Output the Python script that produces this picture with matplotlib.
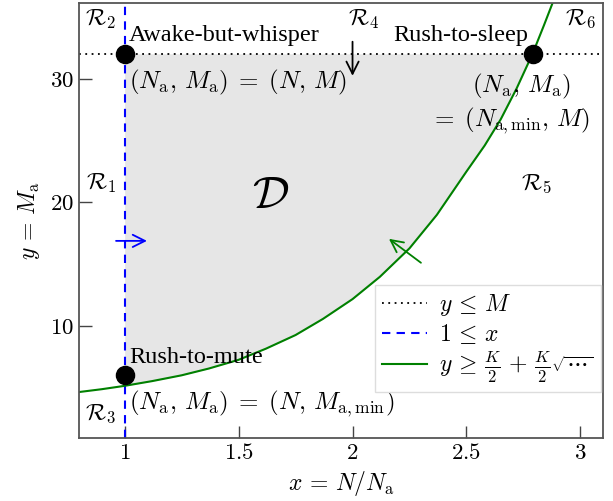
import numpy as np
import matplotlib
matplotlib.use("Agg")
from matplotlib import pyplot as plt
from matplotlib.ticker import FuncFormatter

plt.rcParams['mathtext.fontset'] = 'cm'
plt.rcParams['font.family'] = ['Liberation Serif', 'DejaVu Serif']

# values
curve_x = [0.80, 0.90, 1.00, 1.12, 1.25, 1.37, 1.50, 1.62, 1.75, 1.87, 2.00,
           2.12, 2.25, 2.37, 2.50, 2.58, 2.65, 2.72, 2.79, 2.84, 2.88]
curve_y = [4.70, 4.93, 5.20, 5.58, 6.05, 6.60, 7.30, 8.20, 9.30, 10.60, 12.20,
           14.00, 16.30, 19.00, 22.50, 24.60, 26.70, 29.20, 32.00, 34.30, 36.20]
M = 32.0
x_min = 1.0
points_x = [1.0, 2.79, 1.0]
points_y = [32.0, 32.0, 6.05]
x_ticks = [1, 1.5, 2, 2.5, 3]
y_ticks = [10, 20, 30]

fig = plt.figure(figsize=(6.13, 5.01), dpi=100)
ax = fig.add_axes([0.129, 0.126, 0.855, 0.868])

cx = np.array(curve_x)
cy = np.array(curve_y)
m = (cx >= x_min) & (cy <= M)
ax.fill_between(cx[m], cy[m], M, color='#e6e6e6', lw=0, zorder=0)

ax.axhline(M, color='black', ls=(0, (1, 2.5)), lw=1.3, label=r'$y \,\leq\, M$')
ax.axvline(x_min, color='blue', ls=(0, (4, 3)), lw=1.5, label=r'$1 \,\leq\, x$')
ax.plot(cx, cy, color='green', lw=1.5,
        label=r'$y \,\geq\, \frac{K}{2} \,+\, \frac{K}{2}\sqrt{\cdots}$')
ax.scatter(points_x, points_y, s=170, color='black', zorder=5)

arr = dict(arrowstyle='->', lw=1.3, mutation_scale=22)
ax.annotate('', xy=(2.0, 30.0), xytext=(2.0, 33.2), arrowprops=dict(arr, color='black'))
ax.annotate('', xy=(1.11, 16.9), xytext=(0.95, 16.9), arrowprops=dict(arr, color='blue'))
ax.annotate('', xy=(2.15, 17.2), xytext=(2.31, 15.0), arrowprops=dict(arr, color='green'))

fs = 17.5
ms = 18
ax.text(1.02, 33.5, 'Awake-but-whisper', fontsize=fs, va='center')
ax.text(2.77, 33.5, 'Rush-to-sleep', fontsize=fs, va='center', ha='right')
ax.text(1.02, 7.5, 'Rush-to-mute', fontsize=fs, va='center')
ax.text(1.02, 29.7, r'$(N_\mathrm{a},\, M_\mathrm{a}) \;=\; (N,\, M)$', fontsize=ms, va='center')
ax.text(2.96, 29.4, r'$(N_\mathrm{a},\, M_\mathrm{a})$', fontsize=ms, va='center', ha='right')
ax.text(3.04, 26.6, r'$=\; (N_{\mathrm{a},\min},\, M)$', fontsize=ms, va='center', ha='right')
ax.text(1.02, 3.8, r'$(N_\mathrm{a},\, M_\mathrm{a}) \;=\; (N,\, M_{\mathrm{a},\min})$', fontsize=ms, va='center')

rs = 17
ax.text(0.895, 34.8, r'$\mathcal{R}_2$', fontsize=rs, ha='center', va='center')
ax.text(0.895, 21.5, r'$\mathcal{R}_1$', fontsize=rs, ha='center', va='center')
ax.text(0.895, 2.9, r'$\mathcal{R}_3$', fontsize=rs, ha='center', va='center')
ax.text(2.046, 34.8, r'$\mathcal{R}_4$', fontsize=rs, ha='center', va='center')
ax.text(2.807, 21.5, r'$\mathcal{R}_5$', fontsize=rs, ha='center', va='center')
ax.text(3.0, 34.8, r'$\mathcal{R}_6$', fontsize=rs, ha='center', va='center')
ax.text(1.64, 20.5, r'$\mathcal{D}$', fontsize=33, ha='center', va='center')

ax.set_xlim(0.8, 3.1)
ax.set_ylim(1.0, 36.1)
ax.set_xticks(x_ticks)
ax.set_yticks(y_ticks)
ax.xaxis.set_major_formatter(FuncFormatter(lambda v, p: '$%g$' % v))
ax.yaxis.set_major_formatter(FuncFormatter(lambda v, p: '$%g$' % v))
ax.tick_params(direction='in', length=9, width=1, labelsize=16.5, colors='#444444', labelcolor='black')
for s in ax.spines.values():
    s.set_color('#555555')
    s.set_linewidth(1.3)

ax.set_xlabel(r'$x \,=\, N/N_\mathrm{a}$', fontsize=17, labelpad=4)
ax.set_ylabel(r'$y \,=\, M_\mathrm{a}$', fontsize=17, labelpad=6)

leg = ax.legend(loc='lower right', bbox_to_anchor=(0.995, 0.106), borderaxespad=0,
                fontsize=17, fancybox=False, framealpha=1, edgecolor='#dddddd',
                handlelength=1.9, handletextpad=0.5, labelspacing=0.15, borderpad=0.3)

fig.savefig('out.png', dpi=100)
